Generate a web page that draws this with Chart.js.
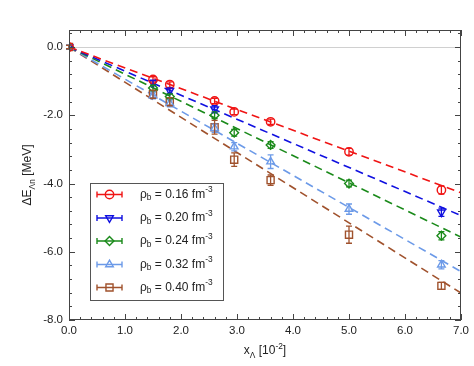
<!DOCTYPE html>
<html>
<head>
<meta charset="utf-8">
<script src="https://cdn.jsdelivr.net/npm/chart.js@4/dist/chart.umd.min.js"></script>
<style>
  html, body { margin: 0; padding: 0; background: #fff; }
  #wrap { width: 474px; height: 366px; }
</style>
</head>
<body>
<div id="wrap"><canvas id="chart"></canvas></div>
<script>
// densities (legend labels)
const densities = ["0.16", "0.20", "0.24", "0.32", "0.40"];
const colors = ["#f01414", "#1010e0", "#1a8a1a", "#6c9ae8", "#a0522d"];

// x_Lambda [10^-2] and Delta E [MeV] per density
const x016 = [0, 1.5, 1.8, 2.6, 2.95, 3.6, 5.0, 6.65];
const y016 = [0, -0.95, -1.1, -1.58, -1.9, -2.19, -3.07, -4.19];
const e016 = [0.05, 0.08, 0.08, 0.08, 0.08, 0.08, 0.1, 0.12];

const x020 = [0, 1.5, 1.8, 2.6, 6.65];
const y020 = [0, -1.05, -1.28, -1.82, -4.84];
const e020 = [0.05, 0.08, 0.08, 0.1, 0.12];

const x024 = [0, 1.5, 1.8, 2.6, 2.95, 3.6, 5.0, 6.65];
const y024 = [0, -1.2, -1.45, -2.0, -2.51, -2.87, -4.0, -5.53];
const e024 = [0.05, 0.08, 0.08, 0.1, 0.1, 0.1, 0.1, 0.12];

const x032 = [0, 1.5, 1.8, 2.6, 2.95, 3.6, 5.0, 6.65];
const y032 = [0, -1.42, -1.65, -2.38, -2.92, -3.36, -4.75, -6.38];
const e032 = [0.05, 0.1, 0.1, 0.12, 0.12, 0.2, 0.15, 0.12];

const x040 = [0, 1.5, 1.8, 2.6, 2.95, 3.6, 5.0, 6.65];
const y040 = [0, -1.38, -1.6, -2.35, -3.3, -3.9, -5.5, -7.0];
const e040 = [0.05, 0.12, 0.12, 0.2, 0.2, 0.15, 0.25, 0.1];

// linear fits through origin, value at x = 7.0
const fitX = [0, 7.0];
const fitEnd = [-4.27, -4.94, -5.57, -6.58, -7.21];

const xTicks = [0, 1, 2, 3, 4, 5, 6, 7];
const yTicks = [-8, -6, -4, -2, 0];

const series = [
  { x: x016, y: y016, e: e016, style: "circle", rot: 0, r: 4.2 },
  { x: x020, y: y020, e: e020, style: "triangle", rot: 180, r: 4.4 },
  { x: x024, y: y024, e: e024, style: "rectRot", rot: 0, r: 4.4 },
  { x: x032, y: y032, e: e032, style: "triangle", rot: 0, r: 4.4 },
  { x: x040, y: y040, e: e040, style: "rect", rot: 0, r: 5 },
];

const FONT = '"Liberation Sans", Arial, Helvetica, sans-serif';

const datasets = [];
series.forEach(function (s, i) {
  datasets.push({
    type: "line",
    data: fitX.map(function (x, k) { return { x: x, y: k === 0 ? 0 : fitEnd[i] }; }),
    borderColor: colors[i],
    borderWidth: 1.6,
    borderDash: [8, 5],
    pointRadius: 0,
    fill: false,
    order: 2,
  });
});
series.forEach(function (s, i) {
  datasets.push({
    type: "scatter",
    data: s.x.map(function (x, k) { return { x: x, y: s.y[k] }; }),
    borderColor: colors[i],
    backgroundColor: "rgba(0,0,0,0)",
    pointStyle: s.style,
    rotation: s.rot,
    pointRadius: s.r,
    borderWidth: 1.4,
    order: 1,
  });
});

// rich text: parts = [[text, "n"|"sub"|"sup"], ...]
function richWidth(ctx, parts, size) {
  let w = 0;
  parts.forEach(function (p) {
    const fs = p[1] === "n" ? size : size * 0.7;
    ctx.font = fs + "px " + FONT;
    w += ctx.measureText(p[0]).width;
  });
  return w;
}
function drawRich(ctx, parts, x, y, size) {
  parts.forEach(function (p) {
    const fs = p[1] === "n" ? size : size * 0.7;
    ctx.font = fs + "px " + FONT;
    let dy = 0;
    if (p[1] === "sub") dy = size * 0.3;
    if (p[1] === "sup") dy = -size * 0.4;
    ctx.fillText(p[0], x, y + dy);
    x += ctx.measureText(p[0]).width;
  });
}

const decor = {
  id: "decor",
  beforeDatasetsDraw(chart) {
    const ctx = chart.ctx, a = chart.chartArea, ys = chart.scales.y;
    ctx.save();
    ctx.strokeStyle = "#d0d0d0";
    ctx.lineWidth = 1;
    const y0 = Math.round(ys.getPixelForValue(0)) + 0.5;
    ctx.beginPath();
    ctx.moveTo(a.left, y0);
    ctx.lineTo(a.right, y0);
    ctx.stroke();
    ctx.restore();
  },
  afterDatasetsDraw(chart) {
    // error bars
    const ctx = chart.ctx, xs = chart.scales.x, ys = chart.scales.y;
    ctx.save();
    ctx.lineWidth = 1.3;
    series.forEach(function (s, i) {
      ctx.strokeStyle = colors[i];
      s.x.forEach(function (x, k) {
        const px = xs.getPixelForValue(x);
        const top = ys.getPixelForValue(s.y[k] + s.e[k]);
        const bot = ys.getPixelForValue(s.y[k] - s.e[k]);
        ctx.beginPath();
        ctx.moveTo(px, top); ctx.lineTo(px, bot);
        ctx.moveTo(px - 3, top); ctx.lineTo(px + 3, top);
        ctx.moveTo(px - 3, bot); ctx.lineTo(px + 3, bot);
        ctx.stroke();
      });
    });
    ctx.restore();
  },
  afterDraw(chart) {
    const ctx = chart.ctx, a = chart.chartArea, xs = chart.scales.x, ys = chart.scales.y;
    ctx.save();
    // frame and inward ticks
    ctx.strokeStyle = "#444";
    ctx.lineWidth = 1;
    ctx.strokeRect(a.left + 0.5, a.top + 0.5, a.right - a.left - 1, a.bottom - a.top - 1);
    ctx.beginPath();
    for (let i = 0; i <= 35; i++) {
      const v = i * 0.2;
      const px = Math.round(xs.getPixelForValue(v)) + 0.5;
      const len = i % 5 === 0 ? 6 : 3;
      ctx.moveTo(px, a.bottom); ctx.lineTo(px, a.bottom - len);
      ctx.moveTo(px, a.top); ctx.lineTo(px, a.top + len);
    }
    for (let i = 0; i <= 21; i++) {
      const v = -8 + i * 0.4;
      const py = Math.round(ys.getPixelForValue(v)) + 0.5;
      const len = i % 5 === 0 ? 6 : 3;
      ctx.moveTo(a.left, py); ctx.lineTo(a.left + len, py);
      ctx.moveTo(a.right, py); ctx.lineTo(a.right - len, py);
    }
    ctx.stroke();

    // axis titles
    ctx.fillStyle = "#222";
    ctx.textBaseline = "alphabetic";
    ctx.textAlign = "left";
    const xt = [["x", "n"], ["\u039B", "sub"], [" [10", "n"], ["-2", "sup"], ["]", "n"]];
    const xw = richWidth(ctx, xt, 12);
    drawRich(ctx, xt, (a.left + a.right) / 2 - xw / 2, 354, 12);
    const yt = [["\u0394E", "n"], ["\u039Bn", "sub"], [" [MeV]", "n"]];
    const yw = richWidth(ctx, yt, 12);
    ctx.save();
    ctx.translate(31, (a.top + a.bottom) / 2);
    ctx.rotate(-Math.PI / 2);
    drawRich(ctx, yt, -yw / 2, 0, 12);
    ctx.restore();

    // legend
    const bx = 90, by = 183, bw = 133, bh = 117;
    ctx.fillStyle = "#fff";
    ctx.fillRect(bx, by, bw, bh);
    ctx.strokeStyle = "#555";
    ctx.strokeRect(bx + 0.5, by + 0.5, bw, bh);
    const rows = [194.5, 218, 241, 264.5, 287.5];
    series.forEach(function (s, i) {
      const ry = rows[i];
      ctx.strokeStyle = colors[i];
      ctx.lineWidth = 1.4;
      ctx.beginPath();
      ctx.moveTo(97, ry); ctx.lineTo(122, ry);
      ctx.moveTo(97, ry - 3); ctx.lineTo(97, ry + 3);
      ctx.moveTo(122, ry - 3); ctx.lineTo(122, ry + 3);
      ctx.stroke();
      ctx.fillStyle = "rgba(0,0,0,0)";
      Chart.helpers.drawPoint(ctx, {
        pointStyle: s.style, radius: s.r, rotation: s.rot, borderWidth: 1.4,
      }, 109.5, ry);
      ctx.fillStyle = "#222";
      ctx.textBaseline = "middle";
      drawRich(ctx, [["\u03C1", "n"], ["b", "sub"], [" = " + densities[i] + " fm", "n"], ["-3", "sup"]], 140, ry, 12);
    });
    ctx.restore();
  },
};

new Chart(document.getElementById("chart"), {
  data: { datasets: datasets },
  options: {
    responsive: true,
    maintainAspectRatio: false,
    animation: false,
    layout: { padding: { top: 30, right: 13, left: 0, bottom: 0 } },
    plugins: { legend: { display: false }, tooltip: { enabled: false } },
    scales: {
      x: {
        type: "linear",
        min: 0, max: 7,
        afterBuildTicks: function (s) { s.ticks = xTicks.map(function (v) { return { value: v }; }); },
        afterFit: function (s) { s.height = 46; },
        grid: { display: false, drawTicks: false },
        border: { display: false },
        ticks: {
          padding: 4, color: "#222", maxRotation: 0,
          font: { family: FONT, size: 11.5 },
          callback: function (v) { return v.toFixed(1); },
        },
      },
      y: {
        type: "linear",
        min: -8, max: 0.5,
        afterBuildTicks: function (s) { s.ticks = yTicks.map(function (v) { return { value: v }; }); },
        afterFit: function (s) { s.width = 69; },
        grid: { display: false, drawTicks: false },
        border: { display: false },
        ticks: {
          padding: 6, color: "#222",
          font: { family: FONT, size: 11.5 },
          callback: function (v) { return v.toFixed(1); },
        },
      },
    },
  },
  plugins: [decor],
});
</script>
</body>
</html>
